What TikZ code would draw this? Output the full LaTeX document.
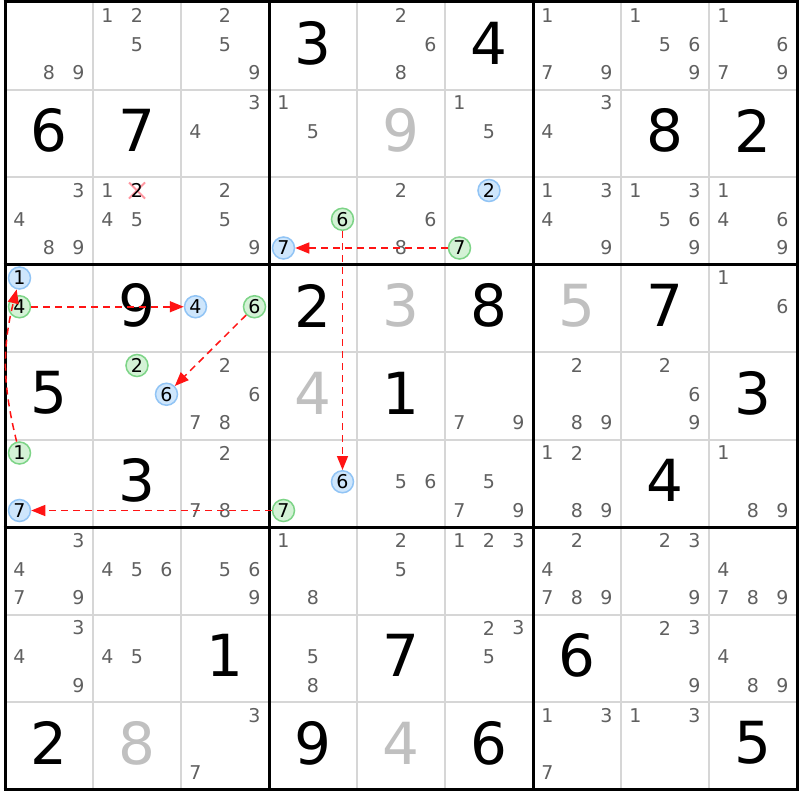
\documentclass[tikz,border=0pt]{standalone}
\usepackage{fontspec}
\setmainfont{DejaVu Sans}
\usetikzlibrary{arrows.meta}
\definecolor{candgray}{RGB}{96,96,96}
\definecolor{solvedgray}{RGB}{192,192,192}
\definecolor{thingrid}{RGB}{214,214,214}
\definecolor{bluefill}{RGB}{206,230,252}
\definecolor{blueline}{RGB}{145,196,245}
\definecolor{greenfill}{RGB}{212,242,214}
\definecolor{greenline}{RGB}{125,212,135}
\definecolor{crosspink}{RGB}{255,150,160}
\definecolor{chainred}{RGB}{255,20,20}
\newcommand\sdkcands[3]{%
  \foreach \d in {#3}{%
    \pgfmathsetmacro\px{88*#2-39+(mod(\d-1,3)-1)*29.5}%
    \pgfmathsetmacro\py{87.5*#1-43.25+(floor((\d-1)/3)-1)*28.75}%
    \node[cand] (k#1#2-\d) at (\px,\py) {\d};
  }}
\newcommand\sdkcirc[4]{%
  \pgfmathsetmacro\px{88*#2-39+(mod(#3-1,3)-1)*29.5}%
  \pgfmathsetmacro\py{87.5*#1-43.25+(floor((#3-1)/3)-1)*28.75}%
  \node[#4] (k#1#2-#3) at (\px,\py) {#3};}
\newcommand\sdkgiven[3]{\node[given] (g#1#2) at ({88*#2-39},{87.5*#1-44.5}) {#3};}
\newcommand\sdksolved[3]{\node[solved] (g#1#2) at ({88*#2-39},{87.5*#1-44.5}) {#3};}
\begin{document}
\begin{tikzpicture}[x=1pt,y=-1pt,
  cand/.style={inner sep=0pt, text=candgray, font=\fontsize{19}{19}\selectfont},
  given/.style={inner sep=0pt, text=black, font=\fontsize{58}{58}\selectfont},
  solved/.style={given, text=solvedgray},
  bluecand/.style={circle, inner sep=0pt, minimum size=22pt, draw=blueline, fill=bluefill, line width=1.5pt, text=black, font=\fontsize{19}{19}\selectfont},
  greencand/.style={bluecand, draw=greenline, fill=greenfill},
  crossed/.style={cand, text=black},
  chain/.style={draw=chainred, line width=1.5pt, dash pattern=on 7pt off 5pt, -{Triangle[length=14pt,width=11pt]}},
  thingridline/.style={draw=thingrid, line width=2pt},
  thickgridline/.style={draw=black, line width=3pt},
  crossline/.style={draw=crosspink, line width=2pt},
]
\useasboundingbox (0,0) rectangle (800,800);
\fill[white] (0,0) rectangle (800,800);
% grid
\foreach \k in {1,2,4,5,7,8} {
  \draw[thingridline] ({5+88*\k},2) -- ({5+88*\k},789.5);
  \draw[thingridline] (5,{2+87.5*\k}) -- (797,{2+87.5*\k});
}
\foreach \k in {0,3,6,9} {
  \draw[thickgridline] ({5+88*\k},0.5) -- ({5+88*\k},791);
  \draw[thickgridline] (3.5,{2+87.5*\k}) -- (798.5,{2+87.5*\k});
}
% row 1
\sdkcands{1}{1}{8,9}
\sdkcands{1}{2}{1,2,5}
\sdkcands{1}{3}{2,5,9}
\sdkgiven{1}{4}{3}
\sdkcands{1}{5}{2,6,8}
\sdkgiven{1}{6}{4}
\sdkcands{1}{7}{1,7,9}
\sdkcands{1}{8}{1,5,6,9}
\sdkcands{1}{9}{1,6,7,9}
% row 2
\sdkgiven{2}{1}{6}
\sdkgiven{2}{2}{7}
\sdkcands{2}{3}{3,4}
\sdkcands{2}{4}{1,5}
\sdksolved{2}{5}{9}
\sdkcands{2}{6}{1,5}
\sdkcands{2}{7}{3,4}
\sdkgiven{2}{8}{8}
\sdkgiven{2}{9}{2}
% row 3
\sdkcands{3}{1}{3,4,8,9}
\sdkcands{3}{2}{1,4,5}
\draw[crossline] (129,182.5) -- (145,198.5);
\draw[crossline] (145,182.5) -- (129,198.5);
\sdkcirc{3}{2}{2}{crossed}
\sdkcands{3}{3}{2,5,9}
\sdkcirc{3}{4}{6}{greencand}
\sdkcirc{3}{4}{7}{bluecand}
\sdkcands{3}{5}{2,6,8}
\sdkcirc{3}{6}{2}{bluecand}
\sdkcirc{3}{6}{7}{greencand}
\sdkcands{3}{7}{1,3,4,9}
\sdkcands{3}{8}{1,3,5,6,9}
\sdkcands{3}{9}{1,4,6,9}
% row 4
\sdkcirc{4}{1}{1}{bluecand}
\sdkcirc{4}{1}{4}{greencand}
\sdkgiven{4}{2}{9}
\sdkcirc{4}{3}{4}{bluecand}
\sdkcirc{4}{3}{6}{greencand}
\sdkgiven{4}{4}{2}
\sdksolved{4}{5}{3}
\sdkgiven{4}{6}{8}
\sdksolved{4}{7}{5}
\sdkgiven{4}{8}{7}
\sdkcands{4}{9}{1,6}
% row 5
\sdkgiven{5}{1}{5}
\sdkcirc{5}{2}{2}{greencand}
\sdkcirc{5}{2}{6}{bluecand}
\sdkcands{5}{3}{2,6,7,8}
\sdksolved{5}{4}{4}
\sdkgiven{5}{5}{1}
\sdkcands{5}{6}{7,9}
\sdkcands{5}{7}{2,8,9}
\sdkcands{5}{8}{2,6,9}
\sdkgiven{5}{9}{3}
% row 6
\sdkcirc{6}{1}{1}{greencand}
\sdkcirc{6}{1}{7}{bluecand}
\sdkgiven{6}{2}{3}
\sdkcands{6}{3}{2,7,8}
\sdkcirc{6}{4}{6}{bluecand}
\sdkcirc{6}{4}{7}{greencand}
\sdkcands{6}{5}{5,6}
\sdkcands{6}{6}{5,7,9}
\sdkcands{6}{7}{1,2,8,9}
\sdkgiven{6}{8}{4}
\sdkcands{6}{9}{1,8,9}
% row 7
\sdkcands{7}{1}{3,4,7,9}
\sdkcands{7}{2}{4,5,6}
\sdkcands{7}{3}{5,6,9}
\sdkcands{7}{4}{1,8}
\sdkcands{7}{5}{2,5}
\sdkcands{7}{6}{1,2,3}
\sdkcands{7}{7}{2,4,7,8,9}
\sdkcands{7}{8}{2,3,9}
\sdkcands{7}{9}{4,7,8,9}
% row 8
\sdkcands{8}{1}{3,4,9}
\sdkcands{8}{2}{4,5}
\sdkgiven{8}{3}{1}
\sdkcands{8}{4}{5,8}
\sdkgiven{8}{5}{7}
\sdkcands{8}{6}{2,3,5}
\sdkgiven{8}{7}{6}
\sdkcands{8}{8}{2,3,9}
\sdkcands{8}{9}{4,8,9}
% row 9
\sdkgiven{9}{1}{2}
\sdksolved{9}{2}{8}
\sdkcands{9}{3}{3,7}
\sdkgiven{9}{4}{9}
\sdksolved{9}{5}{4}
\sdkgiven{9}{6}{6}
\sdkcands{9}{7}{1,3,7}
\sdkcands{9}{8}{1,3}
\sdkgiven{9}{9}{5}
% chain
\draw[chain] (k36-7) -- (k34-7);
\draw[chain] (k34-6) -- (k64-6);
\draw[chain] (k64-7) -- (k61-7);
\draw[chain] (k61-1) to[bend left=14] (k41-1);
\draw[chain] (k41-4) -- (k43-4);
\draw[chain] (k43-6) -- (k52-6);
\end{tikzpicture}
\end{document}
